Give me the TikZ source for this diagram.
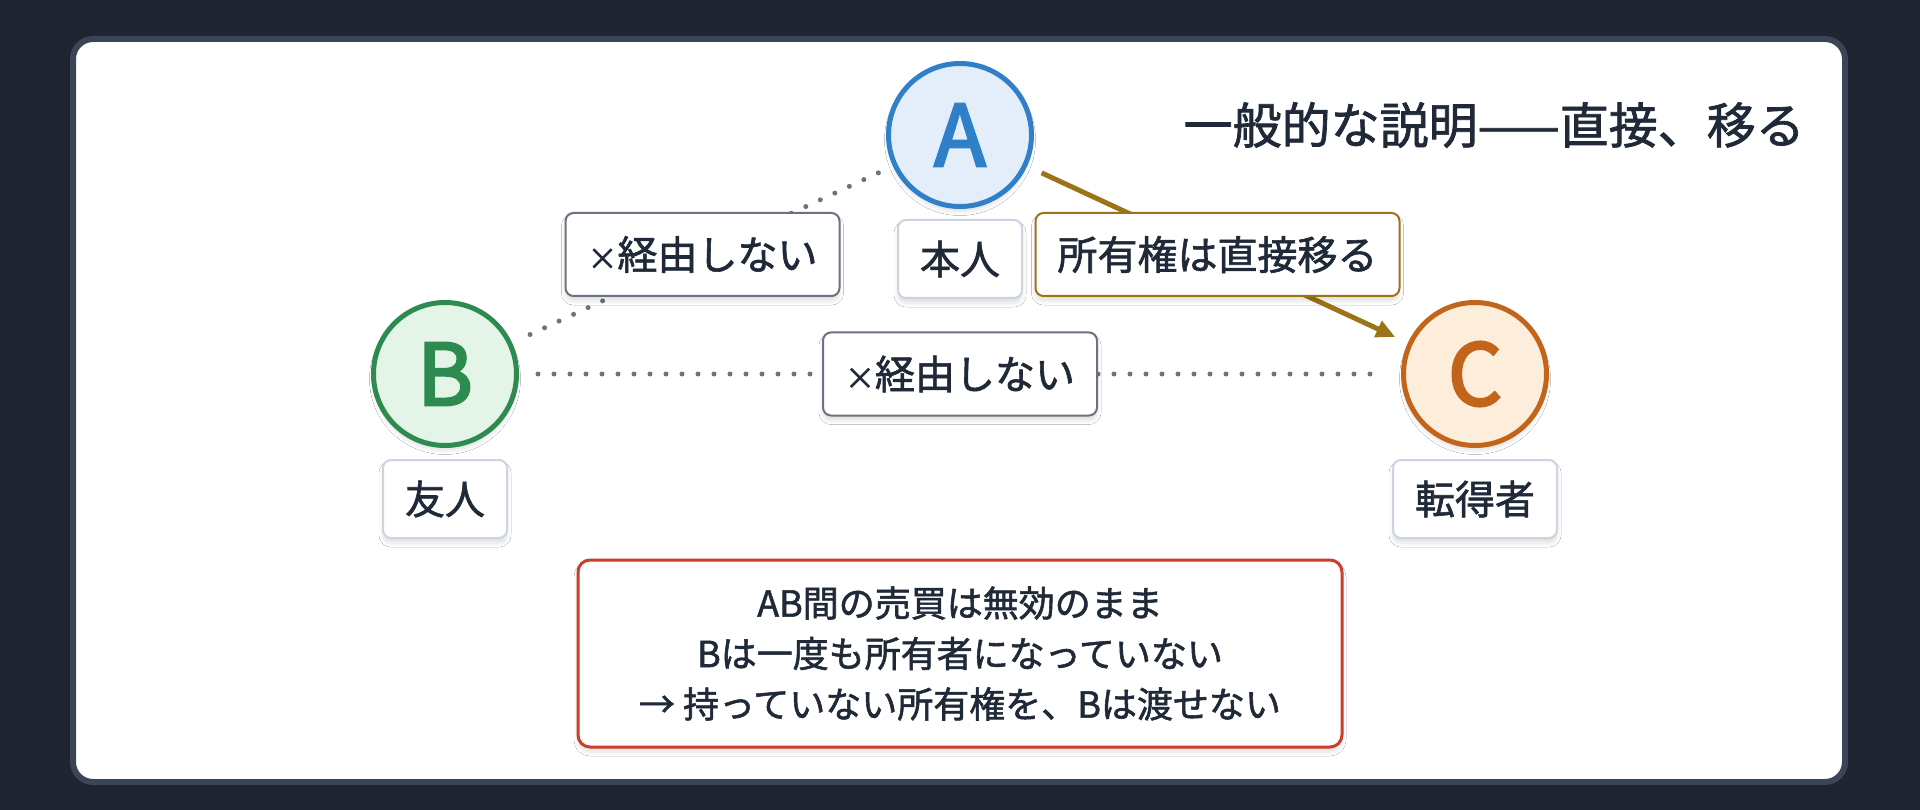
\documentclass[tikz,border=0pt]{standalone}
\usepackage{fontspec}
\setmainfont{Noto Sans CJK JP}[FakeBold=1.5]
\newfontfamily\letterfont{Noto Sans CJK JP}[FakeBold=3]
\usetikzlibrary{arrows.meta,shadows.blur,calc}
\definecolor{bgdark}{HTML}{1E2430}
\definecolor{panelborder}{HTML}{3B4556}
\definecolor{ink}{HTML}{1F2937}
\definecolor{ablue}{HTML}{2F80C8}
\definecolor{afill}{HTML}{E3EEFA}
\definecolor{bgreen}{HTML}{2E8B4F}
\definecolor{bfill}{HTML}{E4F5E8}
\definecolor{corange}{HTML}{C2651A}
\definecolor{cfill}{HTML}{FDEEDC}
\definecolor{gold}{HTML}{9C7418}
\definecolor{slate}{HTML}{6B7280}
\definecolor{lightline}{HTML}{CBD5E1}
\definecolor{redline}{HTML}{CC3D2A}
\newcommand{\smallx}{{\fontsize{30}{30}\selectfont ×}}
\begin{document}
\begin{tikzpicture}[x=1pt,y=-1pt,
  softshadow/.style={blur shadow={shadow xshift=0pt,shadow yshift=-5pt,shadow blur radius=4pt,shadow opacity=12}},
  party/.style={circle, minimum size=143pt, line width=5pt, inner sep=0pt,
    font=\letterfont\fontsize{85}{85}\selectfont, softshadow},
  basebox/.style={fill=white, line width=2pt, rounded corners=8pt, minimum height=80pt,
    inner xsep=22pt, inner ysep=0pt, text=ink, font=\fontsize{40}{48}\selectfont, softshadow},
  tagbox/.style={basebox, draw=lightline, minimum height=78pt},
  crossbox/.style={basebox, draw=slate, minimum height=83pt},
  goldbox/.style={basebox, draw=gold, minimum height=83pt},
  notebox/.style={draw=redline, fill=white, line width=3pt, rounded corners=12pt,
    minimum width=764pt, minimum height=187pt, align=center, text=ink,
    font=\fontsize{36}{50.5}\selectfont, softshadow},
  dotline/.style={slate, line width=5pt, line cap=round, dash pattern=on 0pt off 16pt},
  goldarrow/.style={gold, line width=5pt, -{Triangle[length=19pt,width=17pt]}}
]
\useasboundingbox (0,0) rectangle (1920,810);
\fill[bgdark] (0,0) rectangle (1920,810);
\draw[panelborder, line width=6pt, fill=white, rounded corners=20pt] (73,39) rectangle (1845,782);

% parties
\node[party, draw=ablue, fill=afill, text=ablue] (A) at (960,135) {A};
\node[party, draw=bgreen, fill=bfill, text=bgreen] (B) at (445,374) {B};
\node[party, draw=corange, fill=cfill, text=corange] (C) at (1475,374) {C};

% connectors
\draw[dotline, shorten <=16pt, shorten >=16pt] (A) -- (B);
\draw[dotline, shorten <=19pt, shorten >=30pt] (B) -- (C);
\draw[goldarrow, shorten <=16pt, shorten >=14pt] (A) -- (C);

% connector labels
\node[crossbox] (ab) at ($(A)!0.5!(B)$) {\smallx 経由しない};
\node[crossbox] (bc) at ($(B)!0.5!(C)$) {\smallx 経由しない};
\node[goldbox] (ac) at ($(A)!0.5!(C)$) {所有権は直接移る};

% role labels
\node[tagbox] (lA) at ($(A)+(0,124)$) {本人};
\node[tagbox] (lB) at ($(B)+(0,125)$) {友人};
\node[tagbox] (lC) at ($(C)+(0,125)$) {転得者};

% title
\node[anchor=east, inner sep=0pt, text=ink, font=\fontsize{49}{58}\selectfont] (title) at (1805,125) {一般的な説明——直接、移る};

% note
\node[notebox] (note) at (960,653.5) {AB間の売買は無効のまま\\Bは一度も所有者になっていない\\→ 持っていない所有権を、Bは渡せない};
\end{tikzpicture}
\end{document}
